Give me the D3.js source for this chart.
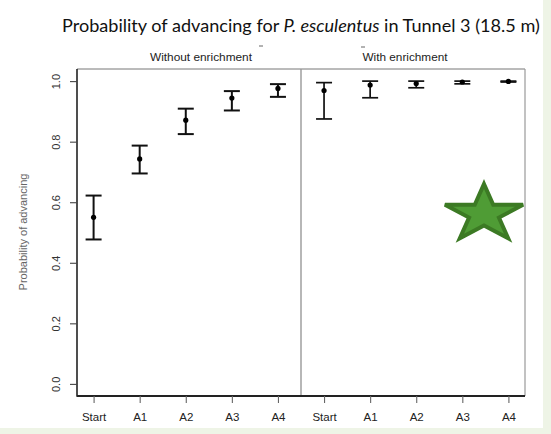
<!DOCTYPE html>
<html>
<head>
<meta charset="utf-8">
<script src="https://cdn.jsdelivr.net/npm/d3@7"></script>
<style>
  html, body { margin: 0; padding: 0; background: #fff; }
  svg { display: block; }
</style>
</head>
<body>
<svg id="chart" width="551" height="434"></svg>
<script>
// values
var stages = ["Start", "A1", "A2", "A3", "A4"];
var panels = ["Without enrichment", "With enrichment"];
var withoutEst = [0.550, 0.743, 0.871, 0.944, 0.976];
var withoutLo  = [0.477, 0.695, 0.825, 0.903, 0.948];
var withoutHi  = [0.622, 0.787, 0.909, 0.967, 0.990];
var withEst = [0.969, 0.987, 0.992, 0.997, 0.999];
var withLo  = [0.875, 0.945, 0.978, 0.991, 0.997];
var withHi  = [0.995, 1.000, 1.000, 1.000, 1.000];
var yTicks = [0, 0.2, 0.4, 0.6, 0.8, 1.0];

var W = 551, H = 434;
var box = {left: 77, right: 525, top: 69, bottom: 396};

var svg = d3.select("#chart");

// pale green strips at right and bottom edge
svg.append("rect").attr("x", 543).attr("y", 0).attr("width", W - 543).attr("height", H).attr("fill", "#eef4e6");
svg.append("rect").attr("x", 0).attr("y", 428).attr("width", W).attr("height", H - 428).attr("fill", "#eef4e6");

// build rows: x position 1..10 like base R
var rows = [];
stages.forEach(function (s, i) {
    rows.push({panel: 0, x: i + 1, est: withoutEst[i], lo: withoutLo[i], hi: withoutHi[i]});
});
stages.forEach(function (s, i) {
    rows.push({panel: 1, x: i + 6, est: withEst[i], lo: withLo[i], hi: withHi[i]});
});

// R style 4% padding
var x = d3.scaleLinear().domain([0.64, 10.36]).range([box.left, box.right]);
var y = d3.scaleLinear().domain([-0.04, 1.04]).range([box.bottom, box.top]);

// frame
svg.append("line").attr("x1", box.left).attr("x2", box.right).attr("y1", box.top).attr("y2", box.top)
    .attr("stroke", "#777").attr("stroke-width", 1);
svg.append("line").attr("x1", box.right).attr("x2", box.right).attr("y1", box.top).attr("y2", box.bottom)
    .attr("stroke", "#999").attr("stroke-width", 1.2);
svg.append("line").attr("x1", x(5.5)).attr("x2", x(5.5)).attr("y1", box.top).attr("y2", box.bottom)
    .attr("stroke", "#999").attr("stroke-width", 1.4);
svg.append("line").attr("x1", box.left).attr("x2", box.left).attr("y1", box.top).attr("y2", box.bottom + 0.7)
    .attr("stroke", "#222").attr("stroke-width", 1.6);
svg.append("line").attr("x1", box.left).attr("x2", box.right).attr("y1", box.bottom).attr("y2", box.bottom)
    .attr("stroke", "#222").attr("stroke-width", 1.8);

// y axis
var yAxis = svg.append("g")
    .attr("transform", "translate(" + box.left + ",0)")
    .call(d3.axisLeft(y).tickValues(yTicks).tickFormat(d3.format(".1f")).tickSize(7).tickPadding(5));
yAxis.select(".domain").remove();
yAxis.selectAll(".tick line").attr("stroke", "#444").attr("stroke-width", 1.1);
yAxis.selectAll(".tick text")
    .attr("transform", "rotate(-90)")
    .attr("x", 0).attr("y", -17)
    .attr("dy", null)
    .attr("text-anchor", "middle")
    .attr("fill", "#333")
    .style("font", "11px 'Liberation Sans', Arial, sans-serif");

// x axis
var xAxis = svg.append("g")
    .attr("transform", "translate(0," + box.bottom + ")")
    .call(d3.axisBottom(x).tickValues(rows.map(function (d) { return d.x; }))
        .tickFormat(function (d) { return stages[(d - 1) % 5]; })
        .tickSize(7).tickPadding(10));
xAxis.select(".domain").remove();
xAxis.selectAll(".tick line").attr("stroke", "#666").attr("stroke-width", 1.1);
xAxis.selectAll(".tick text")
    .attr("fill", "#222")
    .style("font", "11.5px 'Liberation Sans', Arial, sans-serif");

// y title
svg.append("text")
    .attr("transform", "translate(27,232) rotate(-90)")
    .attr("text-anchor", "middle")
    .attr("fill", "#666")
    .style("font", "11px 'Liberation Sans', Arial, sans-serif")
    .text("Probability of advancing");

// panel labels
var panelX = [201, 405];
svg.selectAll(".panel-label").data(panels).enter().append("text")
    .attr("class", "panel-label")
    .attr("x", function (d, i) { return panelX[i]; })
    .attr("y", 61)
    .attr("text-anchor", "middle")
    .attr("fill", "#222")
    .attr("textLength", function (d, i) { return i === 0 ? 102 : 85; })
    .attr("lengthAdjust", "spacingAndGlyphs")
    .style("font", "11px 'Liberation Sans', Arial, sans-serif")
    .text(function (d) { return d; });

// little scan marks near the labels
svg.append("line").attr("x1", 259).attr("x2", 263).attr("y1", 46).attr("y2", 46).attr("stroke", "#666");
svg.append("line").attr("x1", 361).attr("x2", 365).attr("y1", 47).attr("y2", 47).attr("stroke", "#666");

// error bars
var capHalf = 8;
var bars = svg.append("g").selectAll("g").data(rows).enter().append("g")
    .attr("stroke", "#111")
    .attr("stroke-width", function (d) { return d.panel === 0 ? 2 : 1.7; });
bars.append("line")
    .attr("x1", function (d) { return x(d.x); }).attr("x2", function (d) { return x(d.x); })
    .attr("y1", function (d) { return y(d.lo); }).attr("y2", function (d) { return y(d.hi); });
bars.append("line")
    .attr("x1", function (d) { return x(d.x) - capHalf; }).attr("x2", function (d) { return x(d.x) + capHalf; })
    .attr("y1", function (d) { return y(d.lo); }).attr("y2", function (d) { return y(d.lo); });
bars.append("line")
    .attr("x1", function (d) { return x(d.x) - capHalf; }).attr("x2", function (d) { return x(d.x) + capHalf; })
    .attr("y1", function (d) { return y(d.hi); }).attr("y2", function (d) { return y(d.hi); });
svg.append("g").selectAll("circle").data(rows).enter().append("circle")
    .attr("cx", function (d) { return x(d.x); })
    .attr("cy", function (d) { return y(d.est); })
    .attr("r", 2.6)
    .attr("fill", "#000");

// title, fitted to its width in the picture
var title = svg.append("text")
    .attr("x", 62).attr("y", 32)
    .attr("fill", "#111")
    .style("font-family", "Lato, 'Open Sans', sans-serif")
    .style("font-size", "17px");
title.append("tspan").text("Probability of advancing for ");
title.append("tspan").style("font-style", "italic").text("P. esculentus");
title.append("tspan").text(" in Tunnel 3 (18.5 m)");
var tw = title.node().getComputedTextLength();
title.style("font-size", (17 * 478 / tw).toFixed(2) + "px");

// green star
svg.append("path")
    .attr("d", d3.symbol(d3.symbolStar, 1010)())
    .attr("transform", "translate(484,214) scale(1.37,1)")
    .attr("fill", "#4f9c35")
    .attr("stroke", "#3c7a24")
    .attr("stroke-width", 4)
    .attr("stroke-linejoin", "miter")
    .attr("vector-effect", "non-scaling-stroke");
</script>
</body>
</html>
